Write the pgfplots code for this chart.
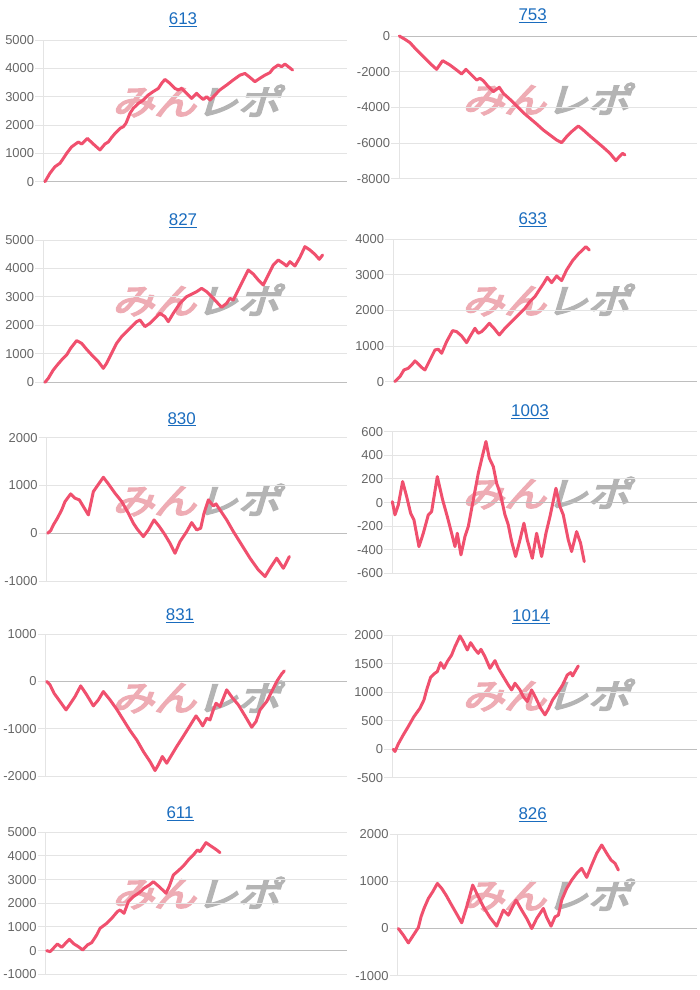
\documentclass[border=0pt]{standalone}
\usepackage{pgfplots}
\pgfplotsset{compat=1.18}
\usepackage{fontspec}
\setmainfont{Liberation Sans}
\newfontfamily\cjk{Noto Sans CJK JP}[FakeBold=5]
\definecolor{linec}{RGB}{240,80,110}
\definecolor{gridc}{RGB}{228,228,228}
\definecolor{zeroc}{RGB}{190,190,190}
\definecolor{tickc}{RGB}{102,102,102}
\definecolor{titlec}{RGB}{26,108,190}
\definecolor{wmpink}{RGB}{238,172,180}
\definecolor{wmgray}{RGB}{180,180,180}
\pgfplotsset{
  panel/.style={
    scale only axis, anchor=north west, xmax=1040, clip=false,
    axis x line=none, axis y line=left,
    y axis line style={draw=gridc, line width=1bp, -},
    ymajorgrids, grid style={draw=gridc, line width=1bp},
    tick align=outside, major tick length=8bp,
    ytick style={draw=gridc, line width=1bp},
    yticklabel style={font=\fontsize{13}{13}\selectfont, text=tickc, inner sep=1bp},
    /pgf/number format/assume math mode=true,
    /pgf/number format/1000 sep={},
    extra y ticks={0}, extra y tick labels={},
    extra y tick style={grid style={draw=zeroc, line width=1bp}, tick style={draw=gridc}},
  },
  pline/.style={draw=linec, line width=3bp, mark=none, line join=round, line cap=round},
}
\newcommand\wm[2]{\node[xslant=0.3, xscale=1.2, transform shape, inner sep=0pt] at (#1bp,#2bp) {\cjk\fontsize{35}{35}\selectfont\textcolor{wmpink}{みん}\textcolor{wmgray}{レポ}};}
\newcommand\ttl[3]{\node[font=\fontsize{17}{17}\selectfont, text=titlec] at (#1bp,#2bp) {\underline{#3}};}
\begin{document}
\begin{tikzpicture}
\path[use as bounding box] (0,0) rectangle (700bp,-990bp);
% watermarks
\wm{200}{-101}
\wm{550}{-99}
\wm{200}{-300}
\wm{550}{-300}
\wm{200}{-500}
\wm{550}{-493}
\wm{200}{-697}
\wm{550}{-695}
\wm{200}{-893}
\wm{550}{-895}
% 613
\begin{axis}[panel, at={(43.3bp,-40bp)}, width=303.3bp, height=141.7bp, xmin=130, ymin=0, ymax=5000, ytick={0,1000,...,5000}]
\addplot[pline] coordinates {(135,0)(150,300)(165,530)(180,650)(190,820)(200,1000)(215,1230)(235,1400)(245,1330)(262,1530)(280,1330)(300,1120)(315,1330)(325,1400)(335,1560)(345,1700)(360,1880)(370,1940)(378,2060)(390,2410)(400,2590)(415,2760)(430,2880)(445,3060)(460,3180)(475,3290)(485,3470)(495,3610)(510,3470)(525,3290)(535,3240)(545,3290)(560,3120)(575,2940)(590,3120)(600,3000)(610,2900)(620,3000)(630,2880)(645,3060)(660,3240)(680,3410)(700,3590)(720,3760)(735,3820)(750,3680)(765,3530)(780,3650)(795,3760)(810,3850)(820,4000)(835,4120)(845,4060)(855,4150)(865,4060)(878,3940)};
\end{axis}
% 753
\begin{axis}[panel, at={(399.3bp,-36bp)}, width=297.3bp, height=143bp, xmin=148, ymin=-8000, ymax=0, ytick={-8000,-6000,...,0}]
\addplot[pline] coordinates {(148,0)(165,-186)(180,-373)(200,-783)(220,-1156)(240,-1529)(260,-1865)(278,-1380)(300,-1622)(320,-1902)(335,-2126)(348,-1865)(365,-2182)(380,-2462)(390,-2368)(400,-2499)(415,-2834)(430,-3114)(448,-2872)(460,-3207)(480,-3543)(500,-3916)(520,-4289)(540,-4606)(560,-4923)(580,-5259)(600,-5538)(620,-5818)(635,-5967)(650,-5632)(665,-5352)(685,-5035)(700,-5259)(720,-5594)(740,-5911)(760,-6228)(780,-6564)(798,-6974)(808,-6750)(818,-6564)(825,-6657)};
\end{axis}
% 827
\begin{axis}[panel, at={(43.3bp,-240bp)}, width=303.3bp, height=142.3bp, xmin=130, ymin=0, ymax=5000, ytick={0,1000,...,5000}]
\addplot[pline] coordinates {(135,0)(145,140)(160,433)(172,609)(185,785)(200,960)(212,1194)(230,1464)(245,1370)(260,1159)(280,902)(295,726)(310,492)(320,667)(335,1019)(350,1370)(365,1604)(380,1780)(395,1956)(410,2131)(420,2190)(435,1956)(450,2073)(465,2248)(480,2424)(495,2307)(505,2131)(520,2424)(540,2775)(560,3009)(580,3126)(590,3185)(605,3302)(620,3185)(640,2951)(665,2635)(680,2775)(690,2951)(700,2892)(715,3244)(730,3595)(745,3946)(760,3805)(775,3595)(790,3419)(805,3770)(820,4122)(835,4298)(850,4180)(860,4087)(870,4239)(885,4087)(900,4391)(915,4766)(930,4649)(945,4496)(958,4321)(968,4473)};
\end{axis}
% 633
\begin{axis}[panel, at={(393.3bp,-239.3bp)}, width=303.3bp, height=142.3bp, xmin=130, ymin=0, ymax=4000, ytick={0,1000,...,4000}]
\addplot[pline] coordinates {(135,0)(150,141)(162,328)(175,375)(185,468)(195,581)(205,496)(218,375)(225,328)(240,609)(255,890)(265,909)(275,796)(290,1124)(308,1433)(320,1405)(335,1283)(350,1096)(360,1265)(375,1499)(385,1358)(395,1405)(405,1499)(418,1639)(432,1499)(448,1311)(465,1499)(485,1686)(505,1874)(525,2061)(540,2248)(555,2389)(568,2576)(580,2745)(592,2932)(605,2782)(620,2970)(635,2839)(650,3138)(668,3400)(685,3587)(700,3719)(708,3794)(718,3700)};
\end{axis}
% 830
\begin{axis}[panel, at={(46.7bp,-437.7bp)}, width=300bp, height=143.3bp, xmin=140, ymin=-1000, ymax=2000, ytick={-1000,0,1000,2000}]
\addplot[pline] coordinates {(143,0)(152,56)(160,174)(172,314)(185,488)(195,663)(212,823)(225,733)(238,698)(250,558)(265,384)(280,872)(296,1033)(310,1172)(325,1033)(345,837)(365,663)(385,419)(400,209)(412,84)(430,-70)(445,70)(462,279)(478,140)(495,-35)(510,-209)(525,-419)(540,-174)(560,35)(575,223)(590,70)(602,105)(612,419)(625,698)(640,572)(648,614)(660,488)(680,279)(700,35)(725,-244)(750,-523)(775,-768)(795,-907)(810,-733)(830,-523)(840,-628)(850,-733)(858,-628)(868,-488)};
\end{axis}
% 1003
\begin{axis}[panel, at={(392.3bp,-431.7bp)}, width=304.3bp, height=141.7bp, xmin=127, ymin=-600, ymax=600, ytick={-600,-400,...,600}]
\addplot[pline] coordinates {(127,8)(135,-104)(145,-20)(158,178)(170,51)(182,-90)(192,-147)(207,-373)(220,-260)(235,-104)(245,-76)(262,220)(278,23)(292,-119)(305,-260)(315,-373)(322,-260)(333,-443)(345,-288)(355,-203)(370,23)(385,248)(397,390)(408,517)(418,376)(430,305)(440,164)(452,65)(465,-104)(475,-189)(485,-330)(497,-457)(510,-316)(522,-175)(532,-316)(547,-472)(560,-260)(575,-457)(588,-260)(600,-119)(618,121)(630,-34)(640,-104)(655,-316)(665,-415)(680,-246)(692,-345)(703,-500)};
\end{axis}
% 831
\begin{axis}[panel, at={(45.7bp,-634.3bp)}, width=301bp, height=141.7bp, xmin=137, ymin=-2000, ymax=1000, ytick={-2000,-1000,0,1000}]
\addplot[pline] coordinates {(140,0)(150,-71)(162,-247)(180,-423)(198,-600)(205,-529)(225,-318)(242,-92)(260,-282)(280,-515)(295,-388)(310,-212)(330,-388)(350,-586)(370,-812)(390,-1037)(410,-1235)(430,-1482)(450,-1694)(465,-1884)(475,-1764)(487,-1588)(500,-1729)(515,-1553)(530,-1376)(548,-1179)(565,-988)(588,-727)(600,-847)(608,-939)(620,-776)(630,-812)(640,-600)(648,-459)(660,-529)(680,-176)(698,-353)(715,-494)(735,-727)(755,-967)(768,-847)(780,-600)(800,-423)(815,-212)(830,0)(845,162)(853,226)};
\end{axis}
% 1014
\begin{axis}[panel, at={(392.3bp,-635bp)}, width=304.3bp, height=142.7bp, xmin=127, ymin=-500, ymax=2000, ytick={-500,0,...,2000}]
\addplot[pline] coordinates {(130,0)(135,-41)(145,93)(160,251)(175,397)(192,571)(210,717)(222,863)(230,1038)(242,1259)(252,1318)(262,1359)(272,1516)(282,1417)(292,1534)(305,1650)(315,1796)(330,1983)(340,1883)(352,1738)(362,1866)(375,1749)(385,1679)(393,1749)(405,1621)(420,1417)(435,1551)(445,1417)(460,1271)(475,1125)(485,1038)(495,1155)(510,1038)(520,921)(532,834)(545,1038)(558,892)(572,717)(585,601)(595,700)(608,863)(622,980)(638,1125)(652,1300)(662,1341)(668,1283)(675,1359)(685,1458)};
\end{axis}
% 611
\begin{axis}[panel, at={(45.7bp,-832.3bp)}, width=301bp, height=142bp, xmin=137, ymin=-1000, ymax=5000, ytick={-1000,0,...,5000}]
\addplot[pline] coordinates {(140,0)(150,-42)(160,99)(172,282)(185,141)(208,479)(222,282)(235,169)(248,28)(262,239)(275,338)(290,662)(300,944)(320,1155)(335,1366)(352,1648)(360,1718)(372,1577)(385,2070)(400,2282)(418,2451)(432,2634)(448,2775)(460,2915)(475,2732)(490,2535)(498,2423)(508,2732)(520,3197)(535,3380)(550,3577)(565,3831)(580,4042)(592,4254)(600,4183)(610,4394)(618,4563)(628,4465)(640,4352)(650,4254)(660,4141)};
\end{axis}
% 826
\begin{axis}[panel, at={(397.7bp,-834.3bp)}, width=299bp, height=141.3bp, xmin=143, ymin=-1000, ymax=2000, ytick={-1000,0,1000,2000}]
\addplot[pline] coordinates {(145,0)(160,-142)(175,-305)(190,-142)(205,21)(213,248)(222,426)(235,638)(248,780)(262,957)(275,851)(288,709)(302,532)(318,333)(335,121)(350,461)(368,922)(385,674)(400,461)(420,234)(440,50)(460,390)(475,284)(498,603)(515,390)(530,213)(545,0)(560,213)(580,426)(590,234)(603,50)(615,248)(625,284)(635,603)(650,851)(665,1028)(680,1170)(695,1277)(710,1085)(725,1348)(740,1596)(755,1773)(770,1596)(783,1454)(795,1383)(805,1241)};
\end{axis}
% titles
\ttl{183}{-20}{613}
\ttl{532.7}{-16}{753}
\ttl{183}{-220.7}{827}
\ttl{532.7}{-220}{633}
\ttl{181.7}{-419.3}{830}
\ttl{530}{-411.7}{1003}
\ttl{180}{-616}{831}
\ttl{531}{-616.7}{1014}
\ttl{180}{-814}{611}
\ttl{532.7}{-815}{826}
\end{tikzpicture}
\end{document}
